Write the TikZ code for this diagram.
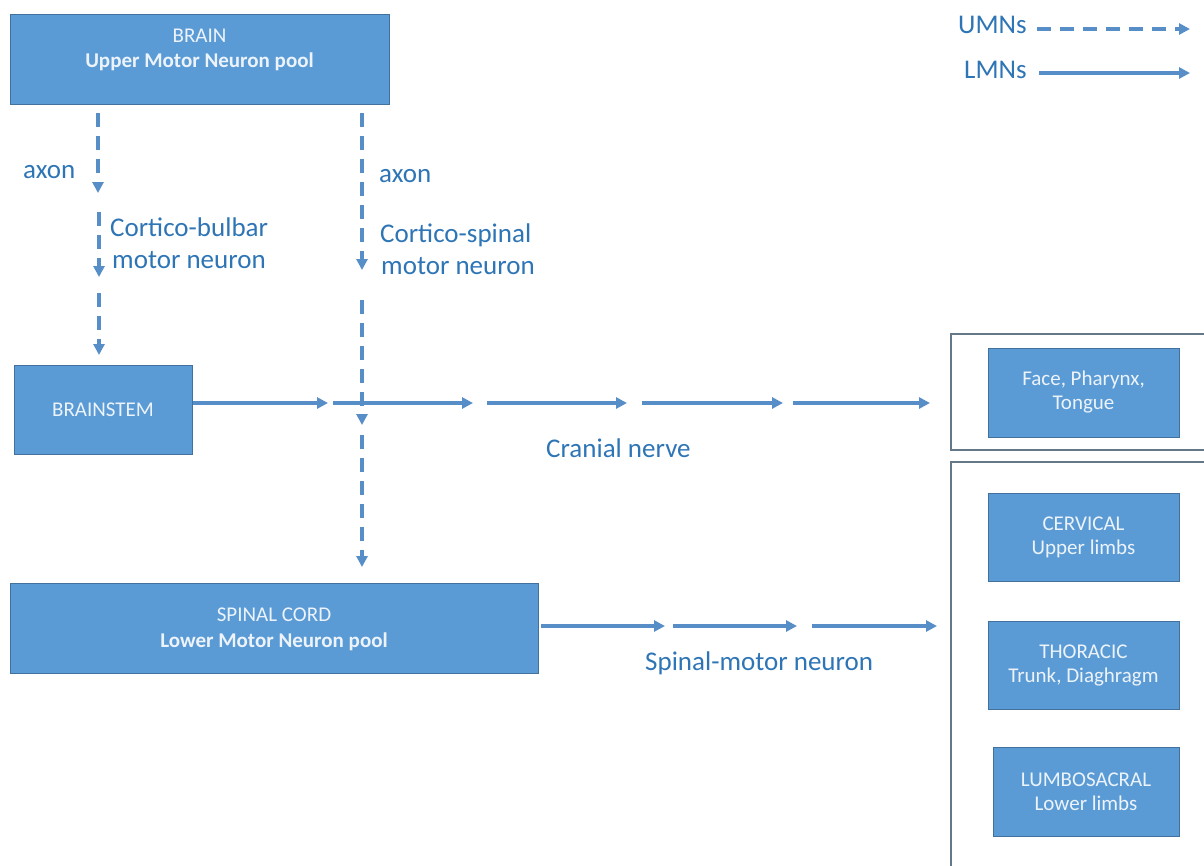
\documentclass[tikz,border=0pt]{standalone}
\usepackage{fontspec}
\setmainfont{Carlito}
\usetikzlibrary{arrows.meta}
\definecolor{boxfill}{RGB}{91,155,213}
\definecolor{boxline}{RGB}{65,113,156}
\definecolor{boxtext}{RGB}{236,243,250}
\definecolor{lbl}{RGB}{46,117,182}
\definecolor{arr}{RGB}{88,142,200}
\definecolor{framecol}{RGB}{100,120,135}
\tikzset{
  bluebox/.style={draw=boxline, fill=boxfill, line width=1pt, inner sep=0pt, text=boxtext, align=center, font=\fontsize{21}{24}\selectfont},
  boxtxt/.style={text=boxtext, font=\fontsize{21}{25}\selectfont, inner sep=0pt, anchor=base},
  lab/.style={text=lbl, font=\fontsize{27}{30}\selectfont, inner sep=0pt, anchor=base west},
  lmn/.style={draw=arr, line width=3.5pt, -{Triangle[length=11pt,width=11pt]}},
  umn/.style={lmn, dash pattern=on 14pt off 9pt},
  outframe/.style={draw=framecol, line width=1.2pt},
}
\begin{document}
\begin{tikzpicture}[x=1pt,y=-1pt]
\useasboundingbox (0,0) rectangle (1204,865);
\clip (0,0) rectangle (1204,865);
\fill[white] (0,0) rectangle (1204,865);

% outline frames
\draw[outframe] (951,334) rectangle (1215,450);
\draw[outframe] (951,462) rectangle (1215,890);

% boxes
\node[bluebox, minimum width=379pt, minimum height=90pt] (brain) at (199.5,59) {};
\node[boxtxt] (brainT1) at (199.5,42) {BRAIN};
\node[boxtxt] (brainT2) at (199.5,67) {\bfseries Upper Motor Neuron pool};

\node[bluebox, minimum width=178pt, minimum height=89pt] (brainstem) at (103,409.5) {BRAINSTEM};

\node[bluebox, minimum width=528pt, minimum height=90pt] (spinal) at (274,628) {};
\node[boxtxt] (spinalT1) at (274,621) {SPINAL CORD};
\node[boxtxt] (spinalT2) at (274,647) {\bfseries Lower Motor Neuron pool};

\node[bluebox, minimum width=191pt, minimum height=89pt] (face) at (1083.5,392.5) {Face, Pharynx,\\Tongue};
\node[bluebox, minimum width=191pt, minimum height=88pt] (cerv) at (1083.5,537) {CERVICAL\\Upper limbs};
\node[bluebox, minimum width=191pt, minimum height=88pt] (thor) at (1083.5,665) {THORACIC\\Trunk, Diaghragm};
\node[bluebox, minimum width=186pt, minimum height=89pt] (lumb) at (1086,791.5) {LUMBOSACRAL\\Lower limbs};

% labels
\node[lab] (axonL) at (23,178) {axon};
\node[lab] (axonR) at (379,182) {axon};
\node[lab] (cb1) at (110,236) {Cortico-bulbar};
\node[lab] (cb2) at (112,268) {motor neuron};
\node[lab] (cs1) at (380,242) {Cortico-spinal};
\node[lab] (cs2) at (381,274) {motor neuron};
\node[lab] (cran) at (546,457) {Cranial nerve};
\node[lab] (spm) at (645,670) {Spinal-motor neuron};
\node[lab] (umnT) at (958,33) {UMNs};
\node[lab] (lmnT) at (964,78) {LMNs};

% coordinates
\coordinate (l1a) at (98,113); \coordinate (l1b) at (98,193);
\coordinate (l2a) at (99,212); \coordinate (l2b) at (99,277);
\coordinate (l3a) at (99,293); \coordinate (l3b) at (99,355);
\coordinate (r1a) at (362,113); \coordinate (r1b) at (362,270);
\coordinate (r2a) at (362,300); \coordinate (r2b) at (362,425);
\coordinate (r3a) at (362,435); \coordinate (r3b) at (362,567);
\coordinate (h1b) at (328,403);
\coordinate (h2a) at (333,403); \coordinate (h2b) at (473,403);
\coordinate (h3a) at (487,403); \coordinate (h3b) at (627,403);
\coordinate (h4a) at (642,403); \coordinate (h4b) at (783,403);
\coordinate (h5a) at (793,403); \coordinate (h5b) at (930,403);
\coordinate (s1a) at (541,626); \coordinate (s1b) at (665,626);
\coordinate (s2a) at (673,626); \coordinate (s2b) at (797,626);
\coordinate (s3a) at (812,626); \coordinate (s3b) at (937,626);
\coordinate (ua) at (1037,29); \coordinate (ub) at (1190,29);
\coordinate (la) at (1039,73); \coordinate (lb) at (1190,73);

% UMN dashed connectors
\draw[umn] (l1a) -- (l1b);
\draw[umn] (l2a) -- (l2b);
\draw[umn] (l3a) -- (l3b);
\draw[umn] (r1a) -- (r1b);
\draw[umn] (r2a) -- (r2b);
\draw[umn] (r3a) -- (r3b);

% LMN solid connectors
\draw[lmn] (brainstem.east |- h1b) -- (h1b);
\draw[lmn] (h2a) -- (h2b);
\draw[lmn] (h3a) -- (h3b);
\draw[lmn] (h4a) -- (h4b);
\draw[lmn] (h5a) -- (h5b);
\draw[lmn] (s1a) -- (s1b);
\draw[lmn] (s2a) -- (s2b);
\draw[lmn] (s3a) -- (s3b);

% legend
\draw[umn] (ua) -- (ub);
\draw[lmn] (la) -- (lb);
\end{tikzpicture}
\end{document}
